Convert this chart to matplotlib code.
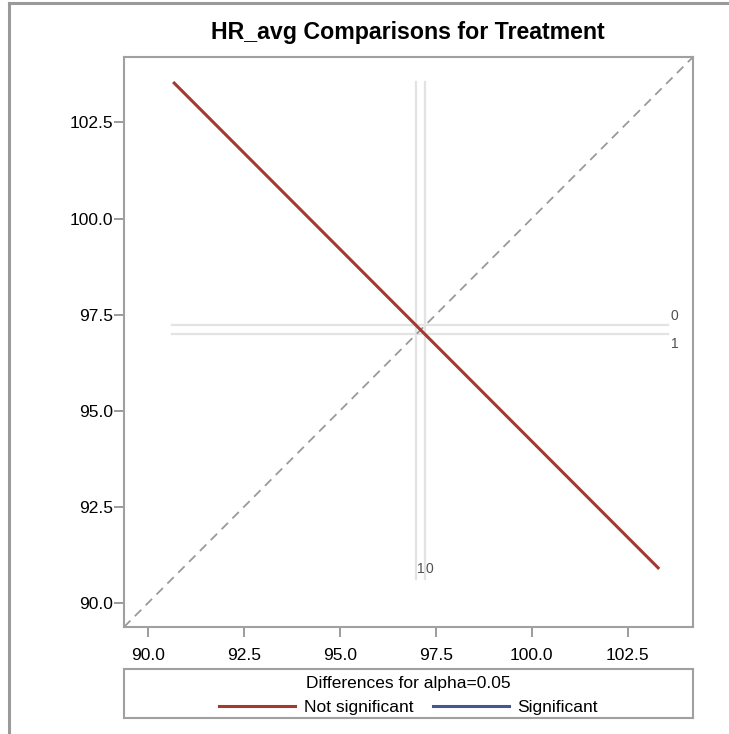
import numpy as np
import matplotlib
matplotlib.use("Agg")
import matplotlib.pyplot as plt
from matplotlib.lines import Line2D

plt.rcParams['font.family'] = ['Liberation Sans', 'DejaVu Sans']

# LS means of HR_avg by treatment level
levels = ['0', '1']
lsmeans = [97.22, 96.99]
# half-width of the difference interval (0 - 1)
diff_halfwidth = 6.33
# extent of the reference lines
ref_span = [90.63, 103.55]
ticks = [90.0, 92.5, 95.0, 97.5, 100.0, 102.5]
lims = [89.38, 104.2]

red = '#A23A2E'
blue = '#445694'
frame_gray = '#A0A0A0'

fig = plt.figure(figsize=(7.29, 7.34), dpi=100)
ax = fig.add_axes([124 / 729, 107 / 734, 569 / 729, 570 / 734])

# reference lines for each level
for lev, m in zip(levels, lsmeans):
    ax.plot(ref_span, [m, m], color='#E3E3E3', lw=1.6, zorder=1)
    ax.plot([m, m], ref_span, color='#E3E3E3', lw=1.6, zorder=1)

# labels at the ends of the reference lines
lab_kw = dict(textcoords='offset points', fontsize=10, color='#505050')
ax.annotate(levels[0], (ref_span[1], lsmeans[0]), xytext=(2, 2), ha='left', va='bottom', **lab_kw)
ax.annotate(levels[1], (ref_span[1], lsmeans[1]), xytext=(2, -2), ha='left', va='top', **lab_kw)
ax.annotate(levels[1], (lsmeans[1], ref_span[0]), xytext=(0.5, 2), ha='left', va='bottom', **lab_kw)
ax.annotate(levels[0], (lsmeans[0], ref_span[0]), xytext=(0.5, 2), ha='left', va='bottom', **lab_kw)

# diagonal y = x
ax.plot(lims, lims, color='#9A9A9A', lw=1.3, ls=(0, (5, 3.5)), zorder=2)

# difference segment centred at (mean of 1, mean of 0), slope -1
cx, cy = lsmeans[1], lsmeans[0]
ax.plot([cx - diff_halfwidth, cx + diff_halfwidth],
        [cy + diff_halfwidth, cy - diff_halfwidth],
        color=red, lw=2.2, solid_capstyle='butt', zorder=3)

ax.set_xlim(lims)
ax.set_ylim(lims)
ax.set_xticks(ticks)
ax.set_yticks(ticks)
ax.set_xticklabels([f'{t:.1f}' for t in ticks])
ax.set_yticklabels([f'{t:.1f}' for t in ticks])
ax.tick_params(direction='out', length=7, width=1.2, color='#8A8A8A', labelsize=12.5)
ax.tick_params(axis='y', pad=1)
ax.tick_params(axis='x', pad=8)
for s in ax.spines.values():
    s.set_color(frame_gray)
    s.set_linewidth(1.5)

fig.text(408 / 729, 1 - 33 / 734, 'HR_avg Comparisons for Treatment',
         ha='center', va='center', fontsize=16.7, fontweight='bold')

# legend in its own framed box below the plot
lax = fig.add_axes([124 / 729, 16 / 734, 569 / 729, 49 / 734])
lax.set_xticks([])
lax.set_yticks([])
for s in lax.spines.values():
    s.set_color(frame_gray)
    s.set_linewidth(1.5)
handles = [Line2D([], [], color=red, lw=2.2), Line2D([], [], color=blue, lw=2.2)]
leg = lax.legend(handles, ['Not significant', 'Significant'], ncol=2, loc='center',
                 bbox_to_anchor=(0.5, 0.46), frameon=False,
                 title='Differences for alpha=0.05', fontsize=12.5,
                 title_fontsize=12.5, handlelength=4.4, columnspacing=1.1,
                 handletextpad=0.5, borderpad=0.0, labelspacing=0.2)
leg._legend_box.sep = 7

# outer frame on the left and top
fig.add_artist(Line2D([9 / 729, 9 / 729], [0, 1 - 3 / 734], color='#9A9A9A', lw=2.2,
                      transform=fig.transFigure))
fig.add_artist(Line2D([9 / 729, 1], [1 - 3 / 734, 1 - 3 / 734], color='#9A9A9A', lw=2.2,
                      transform=fig.transFigure))

fig.savefig('out.png', dpi=100)
